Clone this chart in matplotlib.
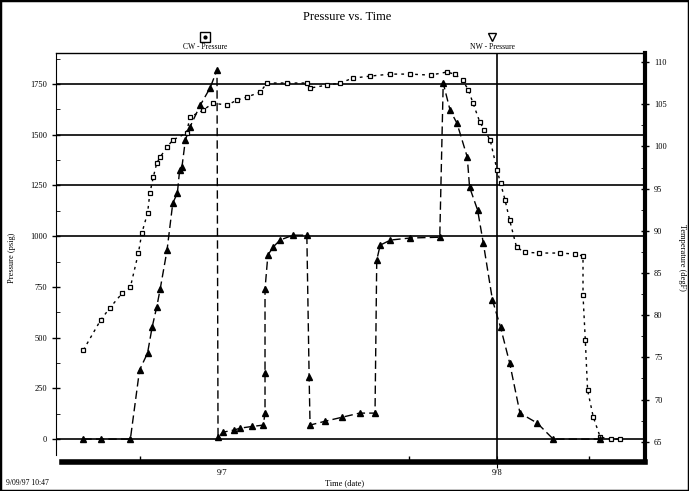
import matplotlib
matplotlib.use("Agg")
import matplotlib.pyplot as plt
from matplotlib.lines import Line2D
from matplotlib.patches import Rectangle
from matplotlib.ticker import MultipleLocator, FixedLocator

plt.rcParams["font.family"] = ["Liberation Serif", "DejaVu Serif"]

# hours from 9/7 00:00, pressure in psig
cw_hours = [-12.1, -10.6, -9.8, -8.7, -8.0, -7.3, -7.0, -6.5, -6.3, -6.0, -5.7, -5.4,
            -4.8, -4.3, -3.1, -2.8, -1.66, -0.79, 0.44, 1.31, 2.18, 3.32, 3.93, 5.67,
            7.42, 7.68, 9.16, 10.3, 11.4, 12.9, 14.7, 16.4, 18.2, 19.6, 20.3, 21.0,
            21.5, 21.9, 22.5, 22.9, 23.4, 24.0, 24.3, 24.7, 25.1, 25.7, 26.4, 27.7,
            29.5, 30.8, 31.5, 31.5, 31.7, 31.9, 32.4, 33.0, 33.9, 34.7]
cw_psi = [439, 586, 646, 720, 749, 917, 1015, 1114, 1212, 1291, 1360, 1390,
          1439, 1474, 1508, 1587, 1621, 1656, 1646, 1671, 1686, 1710, 1755, 1755,
          1755, 1730, 1745, 1755, 1779, 1789, 1799, 1799, 1794, 1809, 1799, 1769,
          1720, 1656, 1562, 1523, 1474, 1326, 1262, 1178, 1079, 946, 921, 917,
          917, 912, 902, 710, 488, 241, 108, 10, 0, 0]

nw_hours = [-12.1, -10.6, -8.0, -7.2, -6.5, -6.1, -5.7, -5.4, -4.8, -4.3, -3.9, -3.7,
            -3.5, -3.2, -2.8, -1.9, -1.05, -0.44, -0.35, 0.09, 1.0, 1.6, 2.6, 3.6,
            3.75, 3.75, 3.75, 4.0, 4.45, 5.06, 6.2, 7.4, 7.6, 7.68, 9.0, 10.5,
            12.0, 13.35, 13.5, 13.8, 14.7, 16.4, 19.0, 19.3, 19.9, 20.5, 21.4, 21.6,
            22.3, 22.8, 23.6, 24.3, 25.1, 26.0, 27.5, 28.9, 33.0]
nw_psi = [0, 0, 0, 340, 424, 552, 651, 739, 931, 1163, 1212, 1326,
          1341, 1474, 1538, 1646, 1730, 1819, 10, 34, 44, 54, 62, 69,
          128, 325, 739, 907, 946, 981, 1005, 1005, 306, 69, 88, 108,
          128, 128, 882, 956, 981, 991, 995, 1755, 1621, 1557, 1390, 1242,
          1129, 966, 685, 552, 375, 128, 79, 0, 0]

grid_psi = [0, 1000, 1250, 1500, 1750]
day_ticks = [0, 24]
day_labels = ["9/7", "9/8"]
minor_hours = [-7.2, 16.3, 32.0]
temp_ticks = [65, 70, 75, 80, 85, 90, 95, 100, 105, 110]

fig = plt.figure(figsize=(6.89, 4.91), dpi=100)
ax = fig.add_axes([56 / 689, 1 - 462 / 491, 589 / 689, 409 / 491])

ax.plot(cw_hours, cw_psi, linestyle=(0, (2, 3)), color="black", lw=1,
        marker="s", ms=3, mfc="white", mec="black", mew=0.9)
ax.plot(nw_hours, nw_psi, linestyle=(0, (6, 3)), color="black", lw=1,
        marker="^", ms=4, mfc="black", mec="black")

for g in grid_psi:
    ax.axhline(g, color="black", lw=1.2, zorder=0)
ax.axvline(24, color="black", lw=1.2, zorder=0)

ax.set_xlim(-14.49, 36.91)
ax.set_ylim(-113, 1903)
ax.yaxis.set_major_locator(MultipleLocator(250))
ax.yaxis.set_minor_locator(MultipleLocator(125))
ax.xaxis.set_major_locator(FixedLocator(day_ticks))
ax.xaxis.set_minor_locator(FixedLocator(minor_hours))
ax.set_xticklabels(day_labels)
ax.tick_params(axis="y", which="major", direction="inout", length=6, labelsize=6, width=1)
ax.tick_params(axis="y", which="minor", direction="in", length=3)
ax.tick_params(axis="x", which="major", direction="inout", length=8, labelsize=6, pad=1)
ax.tick_params(axis="x", which="minor", direction="in", length=4, width=1)
ax.xaxis.get_major_ticks()[0].tick1line.set_visible(False)

ax.spines["right"].set_visible(False)
ax.spines["left"].set_bounds(-80, 1903)
ax.spines["bottom"].set_bounds(-13.96, 36.91)
ax.spines["bottom"].set_linewidth(4)
ax.spines["top"].set_linewidth(1)
ax.set_ylabel("Pressure (psig)", fontsize=6, labelpad=10)

ax2 = ax.twinx()
ax2.set_ylim(62.6, 111.07)
ax2.yaxis.set_major_locator(FixedLocator(temp_ticks))
ax2.yaxis.set_minor_locator(MultipleLocator(2.5))
ax2.tick_params(axis="y", which="major", direction="inout", length=6, labelsize=6, width=1)
ax2.tick_params(axis="y", which="minor", direction="in", length=3)
for s in ["top", "left", "bottom"]:
    ax2.spines[s].set_visible(False)
ax2.spines["right"].set_linewidth(3)
ax2.set_ylabel("Temperature (degF)", fontsize=6, rotation=270, labelpad=14)

fig.text(347 / 689, 1 - 17 / 491, "Pressure vs. Time", fontsize=9, ha="center", va="center")
fig.text(345 / 689, 1 - 483 / 491, "Time (date)", fontsize=6, ha="center", va="center")

# legend above the plot
fig.add_artist(Line2D([205 / 689], [1 - 37 / 491], marker="s", ms=7, mfc="white",
                      mec="black", transform=fig.transFigure))
fig.add_artist(Line2D([205 / 689], [1 - 37 / 491], marker=".", ms=4, color="black",
                      transform=fig.transFigure))
fig.text(205 / 689, 1 - 47 / 491, "CW - Pressure", fontsize=5.5, ha="center", va="center")
fig.add_artist(Line2D([492 / 689], [1 - 37 / 491], marker="v", ms=6, mfc="white",
                      mec="black", transform=fig.transFigure))
fig.text(492 / 689, 1 - 47 / 491, "NW - Pressure", fontsize=5.5, ha="center", va="center")

fig.text(6 / 689, 1 - 483 / 491, "9/09/97 10:47", fontsize=5.5, ha="left", va="center")
fig.patches.append(Rectangle((0, 0), 1, 1, transform=fig.transFigure, fill=False,
                             lw=2.5, ec="black"))

fig.savefig("out.png", dpi=100)
